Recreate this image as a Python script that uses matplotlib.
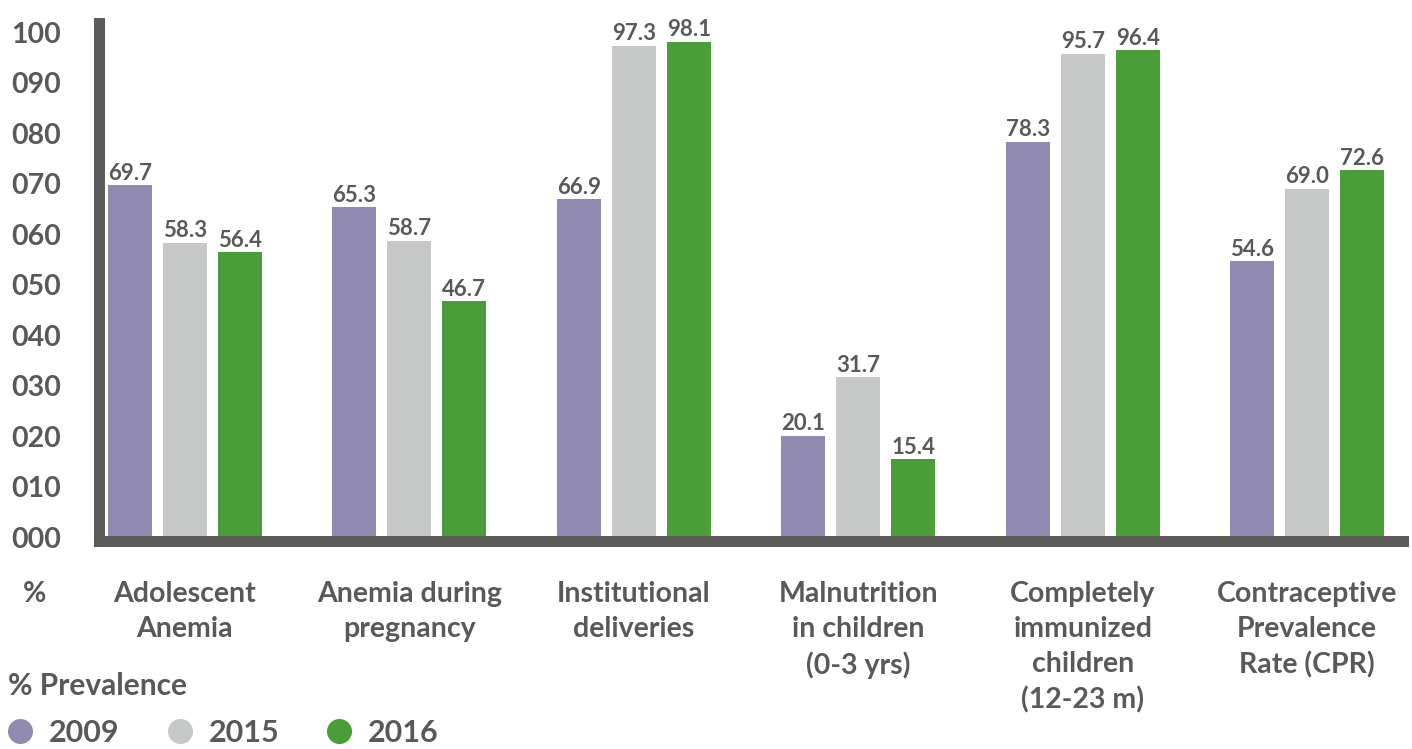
import numpy as np
import matplotlib
matplotlib.use("Agg")
import matplotlib.pyplot as plt
from matplotlib.lines import Line2D

# Data
categories = ["Adolescent\nAnemia", "Anemia during\npregnancy", "Institutional\ndeliveries",
              "Malnutrition\nin children\n(0-3 yrs)", "Completely\nimmunized\nchildren\n(12-23 m)",
              "Contraceptive\nPrevalence\nRate (CPR)"]
years = ["2009", "2015", "2016"]
v2009 = [69.7, 65.3, 66.9, 20.1, 78.3, 54.6]
v2015 = [58.3, 58.7, 97.3, 31.7, 95.7, 69.0]
v2016 = [56.4, 46.7, 98.1, 15.4, 96.4, 72.6]
yticks = [0, 10, 20, 30, 40, 50, 60, 70, 80, 90, 100]

colors = ["#918AB0", "#C6C8C7", "#4A9D37"]
txt = "#595959"
axis_col = "#5B5B5A"

plt.rcParams["font.family"] = ["Lato", "DejaVu Sans"]
plt.rcParams["font.weight"] = "bold"

fig = plt.figure(figsize=(14.12, 7.49), dpi=100)
ax = fig.add_axes([0.06976, 0.2777, 0.99398 - 0.06976, 0.96863 - 0.2777])

x = np.arange(len(categories))
w = 0.196
off = 0.245
for i, vals in enumerate([v2009, v2015, v2016]):
    bars = ax.bar(x + (i - 1) * off, vals, width=w, color=colors[i], zorder=1)
    ax.bar_label(bars, fmt="%.1f", padding=1, fontsize=16, color=txt)

ax.set_xlim(-0.384, 5.429)
ax.set_ylim(-0.79, 101.7)
ax.set_yticks(yticks)
ax.set_yticklabels(["%03d" % t for t in yticks])
ax.set_xticks(x)
ax.set_xticklabels(categories, fontsize=20.5, color=txt, linespacing=1.42)
ax.tick_params(axis="y", length=0, pad=27, labelsize=20.5, labelcolor=txt)
ax.tick_params(axis="x", length=0, pad=29)

for s in ["top", "right"]:
    ax.spines[s].set_visible(False)
for s in ["left", "bottom"]:
    ax.spines[s].set_linewidth(7.9)
    ax.spines[s].set_color(axis_col)
    ax.spines[s].set_zorder(3)

fig.text(35 / 1412, 1 - 594 / 749, "%", fontsize=20.5, color=txt, ha="center", va="center")
fig.text(8 / 1412, 1 - 686 / 749, "% Prevalence", fontsize=21.5, color=txt, ha="left", va="center")

handles = [Line2D([], [], marker="o", linestyle="none", markersize=17,
                  markerfacecolor=c, markeredgecolor=c) for c in colors]
fig.legend(handles, years, loc="center left", bbox_to_anchor=(5 / 1412, 1 - 733 / 749),
           ncol=3, frameon=False, fontsize=22, labelcolor=txt, borderpad=0, borderaxespad=0,
           handlelength=1.0, handletextpad=0.45, columnspacing=1.45)

fig.savefig("out.png", dpi=100)
